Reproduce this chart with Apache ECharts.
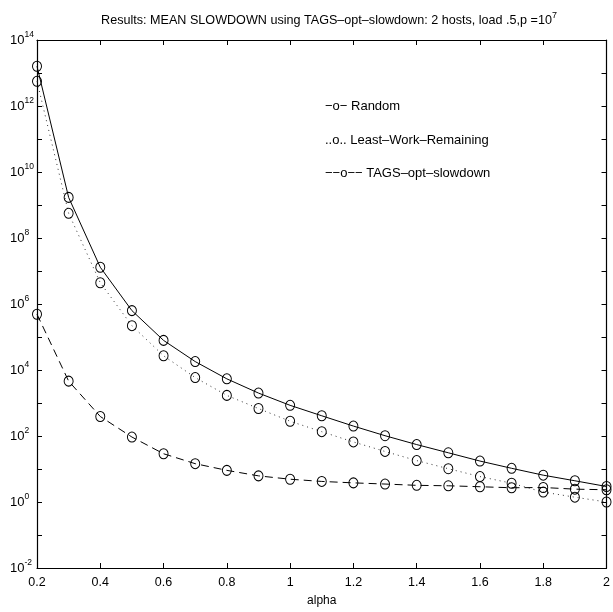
<!DOCTYPE html>
<html>
<head>
<meta charset="utf-8">
<script src="https://cdn.jsdelivr.net/npm/echarts@6/dist/echarts.min.js"></script>
<style>
  html, body { margin: 0; padding: 0; background: #fff; }
  #chart { width: 613px; height: 612px; }
</style>
</head>
<body>
<div id="chart"></div>
<script>
// Tail parameter alpha of the job size distribution
const alphas = [0.2, 0.3, 0.4, 0.5, 0.6, 0.7, 0.8, 0.9, 1.0, 1.1,
                1.2, 1.3, 1.4, 1.5, 1.6, 1.7, 1.8, 1.9, 2.0];

// Mean slowdown for each task assignment policy
const randomSlowdown = [1.6e13, 1.7e9, 1.3e7, 6.3e5, 7.9e4, 1.8e4, 5.4e3, 2.0e3, 850, 410,
                        200, 102, 55, 31, 17.4, 10.5, 6.5, 4.4, 2.95];
const lwrSlowdown = [5.6e12, 5.6e8, 4.4e6, 2.2e5, 2.7e4, 5.9e3, 1.7e3, 680, 280, 135,
                     66, 34, 18, 10.2, 5.9, 3.7, 2.0, 1.4, 1.0];
const tagsSlowdown = [4.9e5, 4.6e3, 390, 93, 29, 14.5, 9.1, 6.2, 4.9, 4.2,
                      3.8, 3.5, 3.2, 3.1, 2.9, 2.7, 2.75, 2.45, 2.35];

const seriesNames = ['Random', 'Least\u2013Work\u2013Remaining', 'TAGS\u2013opt\u2013slowdown'];
const legendLabels = ['\u2212o\u2212 Random',
                      '..o.. Least\u2013Work\u2013Remaining',
                      '\u2212\u2212o\u2212\u2212 TAGS\u2013opt\u2013slowdown'];

const FONT = '"Liberation Sans", Arial, Helvetica, sans-serif';

const chart = echarts.init(document.getElementById('chart'), null, { renderer: 'canvas' });

function pairs(ys) { return alphas.map((a, i) => [a, ys[i]]); }

function makeSeries(name, ys, lineType, lineColor) {
  return {
    name: name,
    type: 'line',
    data: pairs(ys),
    symbol: 'circle',
    symbolSize: [9, 10],
    showAllSymbol: true,
    clip: false,
    itemStyle: { color: 'rgba(0,0,0,0)', borderColor: '#000', borderWidth: 1 },
    lineStyle: { color: lineColor, width: 1, type: lineType },
    emphasis: { disabled: true }
  };
}

const tickStyle = { show: true, inside: true, length: 5, lineStyle: { color: '#000', width: 1 } };
const lineStyle = { show: true, lineStyle: { color: '#000', width: 1.2 } };

const option = {
  backgroundColor: '#fff',
  animation: false,
  title: {
    text: '{a|Results: MEAN SLOWDOWN using TAGS\u2013opt\u2013slowdown: 2 hosts, load .5,p =10}{s|7}',
    left: 324,
    top: 6,
    textAlign: 'center',
    textStyle: {
      fontWeight: 'normal',
      rich: {
        a: { fontFamily: FONT, fontSize: 12.6, fontWeight: 'normal', color: '#000', lineHeight: 20, verticalAlign: 'middle' },
        s: { fontFamily: FONT, fontSize: 9, fontWeight: 'normal', color: '#000', lineHeight: 9, verticalAlign: 'top' }
      }
    }
  },
  grid: { left: 37, right: 2, top: 40, bottom: 36, containLabel: false },
  xAxis: [{
    type: 'value',
    min: 0.2, max: 2, interval: 0.2,
    name: 'alpha',
    nameLocation: 'middle',
    nameGap: 27,
    nameTextStyle: { fontFamily: FONT, fontSize: 12, color: '#000' },
    axisLine: lineStyle,
    axisTick: tickStyle,
    splitLine: { show: false },
    axisLabel: {
      fontFamily: FONT, fontSize: 12.5, color: '#000', margin: 8,
      formatter: v => String(Math.round(v * 10) / 10)
    }
  }, {
    type: 'value', position: 'top',
    min: 0.2, max: 2, interval: 0.2,
    axisLine: lineStyle, axisTick: tickStyle,
    axisLabel: { show: false }, splitLine: { show: false }
  }],
  yAxis: [{
    type: 'log', logBase: 10,
    min: 1e-2, max: 1e14, interval: 1,
    axisLine: lineStyle,
    axisTick: tickStyle,
    splitLine: { show: false },
    minorTick: { show: false },
    axisLabel: {
      margin: 27,
      align: 'left',
      // every decade gets a tick, every second decade a label
      formatter: v => {
        const e = Math.round(Math.log10(v));
        return (e % 2 === 0) ? '{b|10}{e|' + e + '}' : '';
      },
      rich: {
        b: { fontFamily: FONT, fontSize: 13, color: '#000', lineHeight: 20, verticalAlign: 'middle' },
        e: { fontFamily: FONT, fontSize: 8.5, color: '#000', lineHeight: 8, verticalAlign: 'top' }
      }
    }
  }, {
    type: 'log', logBase: 10, position: 'right',
    min: 1e-2, max: 1e14, interval: 1,
    axisLine: lineStyle,
    axisTick: tickStyle,
    axisLabel: { show: false }, splitLine: { show: false }
  }],
  series: [
    makeSeries(seriesNames[0], randomSlowdown, 'solid', '#000'),
    makeSeries(seriesNames[1], lwrSlowdown, [1, 4], '#333'),
    makeSeries(seriesNames[2], tagsSlowdown, [8, 5], '#000')
  ],
  graphic: legendLabels.map((t, i) => ({
    type: 'text',
    left: 325,
    top: 100 + i * 33.5,
    style: { text: t, fontFamily: FONT, fontSize: 13, fill: '#000' }
  }))
};

chart.setOption(option);
</script>
</body>
</html>
